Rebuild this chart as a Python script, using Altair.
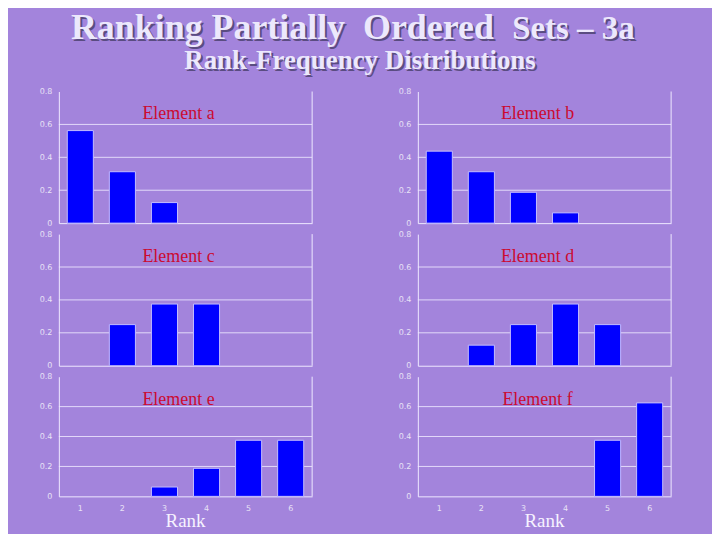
import altair as alt
import pandas as pd

# ---------------- data ----------------
ranks = [1, 2, 3, 4, 5, 6]
elements = ["a", "b", "c", "d", "e", "f"]
freq_a = [0.5625, 0.3125, 0.125, 0.0, 0.0, 0.0]
freq_b = [0.4375, 0.3125, 0.1875, 0.0625, 0.0, 0.0]
freq_c = [0.0, 0.25, 0.375, 0.375, 0.0, 0.0]
freq_d = [0.0, 0.125, 0.25, 0.375, 0.25, 0.0]
freq_e = [0.0, 0.0, 0.0625, 0.1875, 0.375, 0.375]
freq_f = [0.0, 0.0, 0.0, 0.0, 0.375, 0.625]
grid_values = [0.2, 0.4, 0.6]
y_ticks = [0, 0.2, 0.4, 0.6, 0.8]
title_parts = ["Ranking Partially", "Ordered", "Sets – 3a"]
subtitle = "Rank-Frequency Distributions"
x_title = "Rank"

# ---------------- style ----------------
BG = "#a384dc"
LINE = "#eee8ff"
LABEL = "#e8e2f6"
RED = "#cc0a30"
TITLE = "#ece8fc"
SHADOW = "#4e4372"
SERIF = "Liberation Serif"
W = 254
H_TOP = 132
H_BOTTOM = 120


def text_layer(txt, x, y, size, color, align="center", bold=False, dx=0, dy=0, opacity=1.0):
    return alt.Chart(pd.DataFrame({"t": [txt]})).mark_text(
        font=SERIF, fontSize=size, color=color, align=align, baseline="alphabetic",
        fontWeight="bold" if bold else "normal", dx=dx, dy=dy, opacity=opacity,
    ).encode(x=alt.value(x), y=alt.value(y), text="t:N")


def marker(x, y):
    return alt.Chart(pd.DataFrame({"m": [0]})).mark_rule(color=BG, strokeWidth=0.1).encode(
        x=alt.value(x), x2=alt.value(x), y=alt.value(y), y2=alt.value(y + 0.1)
    )


def panel(letter, freqs, bottom):
    h = H_BOTTOM if bottom else H_TOP
    df = pd.DataFrame({"rank": ranks, "freq": freqs})
    xscale = alt.Scale(domain=ranks, paddingInner=0.38, paddingOuter=0.2)
    yscale = alt.Scale(domain=[0, 0.8], nice=False, zero=True)
    xaxis = alt.Axis(labels=bottom, ticks=False, domain=True, domainColor=LINE, domainWidth=1,
                     title=None, grid=False, labelAngle=0, labelColor=LABEL, labelFontSize=8,
                     labelFont="DejaVu Sans", labelPadding=8)
    yaxis = alt.Axis(values=y_ticks, format="~g", ticks=False, grid=False, domainColor=LINE,
                     domainWidth=1, labelColor=LABEL, labelFontSize=8, labelFont="DejaVu Sans",
                     labelPadding=7, title=None)
    grid = alt.Chart(pd.DataFrame({"g": grid_values})).mark_rule(
        color=LINE, strokeWidth=1, opacity=0.85
    ).encode(y=alt.Y("g:Q", scale=yscale, axis=yaxis))
    bars = alt.Chart(df).transform_filter("datum.freq > 0").mark_bar(
        color="#0000ff", stroke="#c4bcff", strokeWidth=1
    ).encode(
        x=alt.X("rank:O", scale=xscale, axis=xaxis),
        y=alt.Y("freq:Q", scale=yscale, axis=yaxis),
    )
    border = alt.Chart(pd.DataFrame({"b": [0]})).mark_rule(color=LINE, strokeWidth=1).encode(
        x=alt.value(W), y=alt.value(0), y2=alt.value(h)
    )
    label = text_layer(f"Element {letter}", 120, 28, 18, RED)
    layers = [grid, bars, border, label]
    if bottom:
        layers.append(text_layer(x_title, 127, 151, 19, "#f6f2ff"))
    return layers, h


panels = []
for i, (letter, freqs) in enumerate(zip(elements, [freq_a, freq_b, freq_c, freq_d, freq_e, freq_f])):
    bottom = i >= 4
    layers, h = panel(letter, freqs, bottom)
    if i == 0:
        # page title (shadow + text)
        for dx, col, op in [(2, SHADOW, 0.85), (0, TITLE, 1.0)]:
            layers.append(text_layer(title_parts[0], 287, -53, 36, col, "right", True, dx, dx, op))
            layers.append(text_layer(title_parts[1], 305, -53, 36, col, "left", True, dx, dx, op))
            layers.append(text_layer(title_parts[2], 516, -53, 33, col, "center", True, dx, dx, op))
            layers.append(text_layer(subtitle, 302, -23, 27, col, "center", True, dx, dx, op))
        layers.append(marker(-50, -82))
    if i == 5:
        layers.append(marker(294, 156))
    panels.append(alt.layer(*layers).properties(width=W, height=h))

chart = alt.concat(
    *panels, columns=2, spacing={"row": 11, "column": 106}, bounds="flush"
).properties(
    padding=0, background=BG
).configure_view(strokeWidth=0)

chart.save("out.html", embed_options={"renderer": "svg", "actions": False})
